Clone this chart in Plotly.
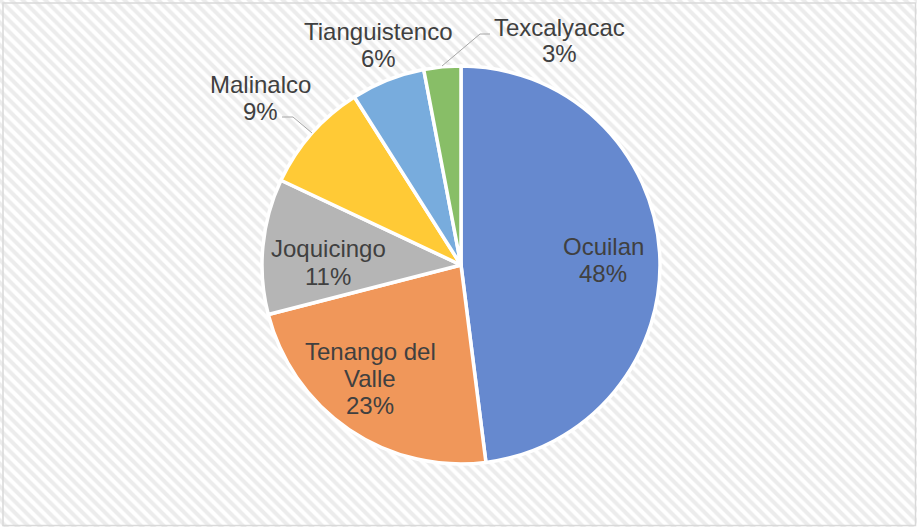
import plotly.graph_objects as go

# ---- data ----
categories = ["Ocuilan", "Tenango del Valle", "Joquicingo", "Malinalco", "Tianguistenco", "Texcalyacac"]
values = [48, 23, 11, 9, 6, 3]
label_lines = [["Ocuilan"], ["Tenango del", "Valle"], ["Joquicingo"], ["Malinalco"], ["Tianguistenco"], ["Texcalyacac"]]

# ---- styles / layout ----
W, H = 917, 527
colors = ["#6689CF", "#F0975A", "#B5B5B5", "#FFCA36", "#78ACDD", "#88BE67"]
# label anchor: (center x px, first baseline y px)
label_anchor = [(603, 254), (370, 359), (328, 257), (260, 92), (378, 40), (559, 35)]
leaders = {3: [(282, 117), (293, 117), (312, 133)], 5: [(490, 34), (480, 34), (442, 66)]}
LINE_H = 27
FONT = dict(family="Liberation Sans, Arial, sans-serif", size=24, color="#404040")

cx, cy, r = 461, 265, 199


def px(x):
    return x / W


def py(y):
    return 1 - y / H


fig = go.Figure()

# hatched background
fig.add_trace(go.Scatter(
    x=[0, 1, 1, 0, 0], y=[0, 0, 1, 1, 0], mode="lines", fill="toself",
    line=dict(width=0), fillcolor="white",
    fillpattern=dict(shape="\\", size=8, solidity=0.5, fgcolor="#DADADA", bgcolor="white"),
    hoverinfo="skip", showlegend=False,
))

fig.add_trace(go.Pie(
    labels=categories, values=values, sort=False, direction="clockwise", rotation=0,
    marker=dict(colors=colors, line=dict(color="white", width=3.5)),
    textinfo="none", hoverinfo="label+percent", showlegend=False,
    domain=dict(x=[px(cx - r), px(cx + r)], y=[py(cy + r), py(cy - r)]),
))

total = sum(values)
annotations = []
for i, (lines, v) in enumerate(zip(label_lines, values)):
    pct = f"{round(v / total * 100)}%"
    all_lines = lines + [pct]
    x0, b0 = label_anchor[i]
    for j, t in enumerate(all_lines):
        base = b0 + j * LINE_H
        annotations.append(dict(
            x=px(x0), y=py(base - 8), xref="paper", yref="paper", text=t,
            showarrow=False, xanchor="center", yanchor="middle", font=FONT,
        ))

shapes = [dict(type="rect", xref="paper", yref="paper", x0=px(3), y0=py(525.5), x1=px(915.5), y1=py(3),
               line=dict(color="#D9D9D9", width=1.5))]
for k, pts in leaders.items():
    path = "M " + " L ".join(f"{px(a)},{py(b)}" for a, b in pts)
    shapes.append(dict(type="path", xref="paper", yref="paper", path=path,
                       line=dict(color="#A6A6A6", width=1)))

fig.update_layout(
    width=W, height=H, margin=dict(l=0, r=0, t=0, b=0),
    paper_bgcolor="white", plot_bgcolor="white",
    xaxis=dict(range=[0, 1], visible=False, fixedrange=True, domain=[0, 1]),
    yaxis=dict(range=[0, 1], visible=False, fixedrange=True, domain=[0, 1]),
    annotations=annotations, shapes=shapes,
)

fig.write_html("out.html", config={"displayModeBar": False},
               post_script="document.body.style.margin='0';document.body.style.overflow='hidden';")
